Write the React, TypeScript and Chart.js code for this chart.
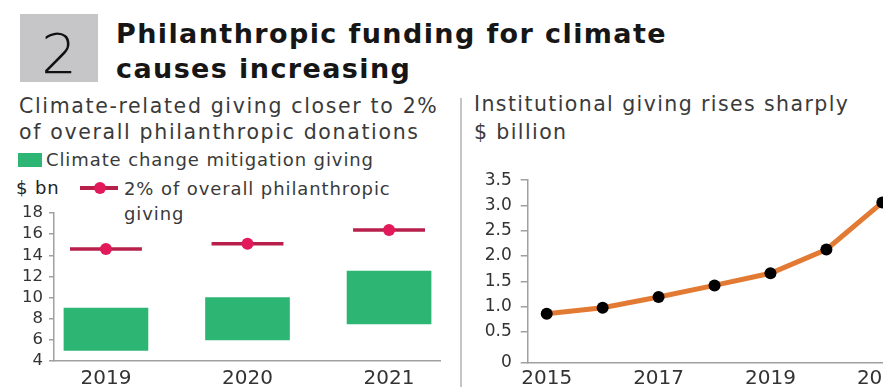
import React, { useEffect, useRef } from "react";
import { Chart, registerables } from "chart.js";

Chart.register(...registerables);

const FONT = "'DejaVu Sans', sans-serif";

// Left panel data
const giveYears = [2019, 2020, 2021];
const mitigationLow = [5, 6, 7.5];
const mitigationHigh = [9, 10, 12.5];
const twoPercentGiving = [14.6, 15.1, 16.4];
const leftYTicks = [4, 6, 8, 10, 12, 14, 16, 18];

// Right panel data
const instYears = [2015, 2016, 2017, 2018, 2019, 2020, 2021];
const instGiving = [0.86, 0.98, 1.19, 1.42, 1.66, 2.13, 3.06];
const rightXTicks = [2015, 2017, 2019, 2021];
const rightYTicks = [0, 0.5, 1, 1.5, 2, 2.5, 3, 3.5];
const rightYTickLabels = ["0", "0.5", "1.0", "1.5", "2.0", "2.5", "3.0", "3.5"];

const GREEN = "#2db574";
const RED_LINE = "#b8204b";
const RED_DOT = "#e2195a";
const ORANGE = "#e27a34";
const AXIS = "#a0a0a0";
const TICK_TEXT = "#333333";
const RIGHT_Y_MIN = -0.1;
const SEG_HALF = 0.254; // half-length of the 2% marker segment, in years

function LeftChart() {
  const ref = useRef<HTMLCanvasElement | null>(null);
  useEffect(() => {
    if (!ref.current) return;
    const pts = giveYears.map((x, i) => ({ x, y: twoPercentGiving[i] }));
    const segs = giveYears.flatMap((x, i) => [
      { x: x - SEG_HALF, y: twoPercentGiving[i] },
      { x: x + SEG_HALF, y: twoPercentGiving[i] },
      { x: x + 0.5, y: null },
    ]);
    const chart = new Chart(ref.current, {
      type: "scatter",
      data: {
        datasets: [
          {
            type: "scatter",
            data: pts,
            pointStyle: "circle",
            pointRadius: 6,
            pointHoverRadius: 6,
            pointBackgroundColor: RED_DOT,
            pointBorderColor: RED_DOT,
            pointBorderWidth: 0,
            order: 0,
          } as any,
          {
            type: "line",
            data: segs,
            showLine: true,
            spanGaps: false,
            borderColor: RED_LINE,
            borderWidth: 3.5,
            pointRadius: 0,
            pointHoverRadius: 0,
            order: 1,
          } as any,
          {
            type: "bar",
            data: giveYears.map((x, i) => ({ x, y: [mitigationLow[i], mitigationHigh[i]] })),
            backgroundColor: GREEN,
            barThickness: 84,
            order: 2,
          } as any,
        ],
      },
      options: {
        animation: false,
        responsive: false,
        layout: { padding: { top: 18, right: 20, left: 0, bottom: 0 } },
        plugins: { legend: { display: false }, tooltip: { enabled: false } },
        scales: {
          x: {
            type: "linear",
            min: 2018.633,
            max: 2021.36,
            offset: false,
            afterBuildTicks: (s: any) => {
              s.ticks = giveYears.map((v) => ({ value: v }));
            },
            afterFit: (s: any) => {
              s.height = 26;
            },
            grid: { display: false, drawTicks: false },
            border: { display: true, color: AXIS, width: 1.5 },
            ticks: {
              color: TICK_TEXT,
              font: { family: FONT, size: 20 },
              padding: 6,
              maxRotation: 0,
              autoSkip: false,
              callback: (v: any) => String(v),
            },
          },
          y: {
            type: "linear",
            min: 4,
            max: 18,
            afterBuildTicks: (s: any) => {
              s.ticks = leftYTicks.map((v) => ({ value: v }));
            },
            afterFit: (s: any) => {
              s.width = 54;
            },
            grid: { drawOnChartArea: false, tickLength: 5, color: AXIS, lineWidth: 1.5 },
            border: { display: true, color: AXIS, width: 1.5 },
            ticks: {
              color: TICK_TEXT,
              font: { family: FONT, size: 16.5 },
              padding: 6,
              autoSkip: false,
              callback: (v: any) => String(v),
            },
          },
        },
      } as any,
    });
    return () => chart.destroy();
  }, []);
  return <canvas ref={ref} width={460} height={192} style={{ position: "absolute", left: 0, top: 195, width: 460, height: 192 }} />;
}

function RightChart() {
  const ref = useRef<HTMLCanvasElement | null>(null);
  useEffect(() => {
    if (!ref.current) return;
    const chart = new Chart(ref.current, {
      type: "line",
      data: {
        datasets: [
          {
            data: instYears.map((x, i) => ({ x, y: instGiving[i] })),
            borderColor: ORANGE,
            borderWidth: 5,
            tension: 0,
            pointRadius: 6,
            pointHoverRadius: 6,
            pointBackgroundColor: "#000000",
            pointBorderColor: "#000000",
            pointBorderWidth: 0,
          },
        ],
      },
      options: {
        animation: false,
        responsive: false,
        layout: { padding: { top: 11, right: 9.7, left: 0, bottom: 0 } },
        plugins: { legend: { display: false }, tooltip: { enabled: false } },
        scales: {
          x: {
            type: "linear",
            min: 2014.66,
            max: 2021.5,
            afterBuildTicks: (s: any) => {
              s.ticks = rightXTicks.map((v) => ({ value: v }));
            },
            afterFit: (s: any) => {
              s.height = 24.7;
            },
            grid: { display: false, drawTicks: false },
            border: { display: true, color: AXIS, width: 1.5 },
            ticks: {
              color: TICK_TEXT,
              font: { family: FONT, size: 20 },
              padding: 4,
              maxRotation: 0,
              autoSkip: false,
              callback: (v: any) => String(v),
            },
          },
          y: {
            type: "linear",
            min: RIGHT_Y_MIN,
            max: 3.5,
            afterBuildTicks: (s: any) => {
              s.ticks = rightYTicks.map((v) => ({ value: v === 0 ? RIGHT_Y_MIN : v }));
            },
            afterFit: (s: any) => {
              s.width = 67.7;
            },
            grid: { drawOnChartArea: false, tickLength: 7, color: AXIS, lineWidth: 1.5 },
            border: { display: true, color: AXIS, width: 1.5 },
            ticks: {
              color: TICK_TEXT,
              font: { family: FONT, size: 17 },
              padding: 9,
              autoSkip: false,
              callback: (_v: any, i: number) => rightYTickLabels[i],
            },
          },
        },
      } as any,
    });
    return () => chart.destroy();
  }, []);
  return <canvas ref={ref} width={460} height={226} style={{ position: "absolute", left: 460, top: 161, width: 460, height: 226 }} />;
}

const abs = (o: React.CSSProperties): React.CSSProperties => ({ position: "absolute", fontFamily: FONT, whiteSpace: "nowrap", margin: 0, ...o });

export default function App() {
  return (
    <div style={{ position: "fixed", left: 0, top: 0, width: 883, height: 387, overflow: "hidden", background: "#ffffff" }}>
      {/* number box */}
      <div style={abs({ left: 20, top: 14, width: 78, height: 68, background: "#c6c6c8" })} />
      <div style={abs({ left: 20, top: 25.6, width: 78, textAlign: "center", fontSize: 56, lineHeight: "56px", fontWeight: 200, color: "#111" })}>2</div>
      {/* title */}
      <div style={abs({ left: 116, top: 16.2, fontSize: 27, lineHeight: "35px", fontWeight: 700, color: "#161616", letterSpacing: 1.4 })}>
        Philanthropic funding for climate
        <br />
        causes increasing
      </div>
      {/* left subtitle */}
      <div style={abs({ left: 19, top: 92.5, fontSize: 20.5, lineHeight: "26px", color: "#3a3a3a", letterSpacing: 1.65 })}>
        Climate-related giving closer to 2%
        <br />
        of overall philanthropic donations
      </div>
      {/* legend 1 */}
      <div style={abs({ left: 18, top: 153, width: 24, height: 14, background: GREEN })} />
      <div style={abs({ left: 46, top: 150.4, fontSize: 18, lineHeight: "20px", color: "#3a3a3a", letterSpacing: 0.9 })}>Climate change mitigation giving</div>
      {/* $ bn */}
      <div style={abs({ left: 16, top: 178.4, fontSize: 18, lineHeight: "20px", color: "#222", letterSpacing: 0.9 })}>$ bn</div>
      {/* legend 2 */}
      <div style={abs({ left: 80, top: 186.3, width: 38, height: 3.5, background: RED_LINE })} />
      <div style={abs({ left: 94, top: 182, width: 12, height: 12, borderRadius: 6, background: RED_DOT })} />
      <div style={abs({ left: 124, top: 176, fontSize: 18, lineHeight: "25px", color: "#3a3a3a", letterSpacing: 0.9 })}>
        2% of overall philanthropic
        <br />
        giving
      </div>
      {/* divider */}
      <div style={abs({ left: 460, top: 98, width: 2, height: 289, background: "#c4c4c4" })} />
      {/* right subtitle */}
      <div style={abs({ left: 474, top: 90.2, fontSize: 20.5, lineHeight: "28px", color: "#3a3a3a", letterSpacing: 1.4 })}>
        Institutional giving rises sharply
        <br />
        $ billion
      </div>
      <LeftChart />
      <RightChart />
    </div>
  );
}
